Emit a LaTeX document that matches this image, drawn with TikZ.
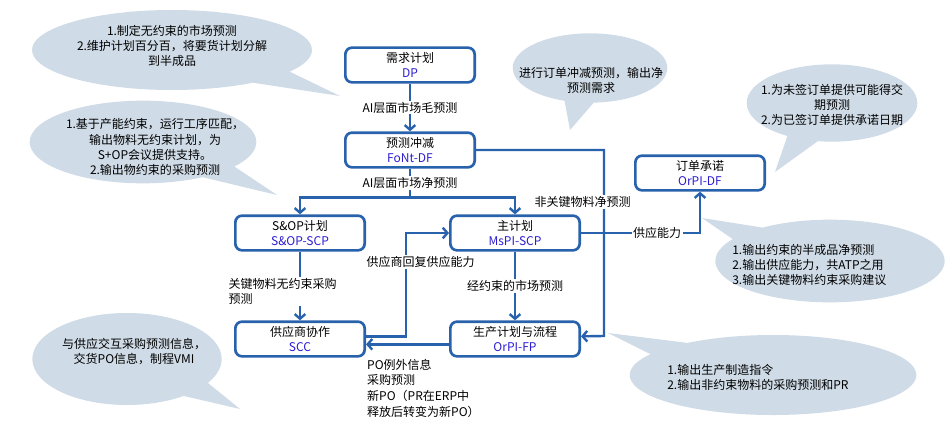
\documentclass[tikz,border=0pt]{standalone}
\usepackage{fontspec}
\setmainfont{Noto Sans CJK SC}
\usetikzlibrary{arrows.meta, calc, shapes.callouts}

\definecolor{flowblue}{RGB}{41,98,172}
\definecolor{codeblue}{RGB}{45,30,210}
\definecolor{notefill}{RGB}{207,219,230}
\newcommand{\boxcode}[1]{\textcolor{codeblue}{#1}}

\begin{document}
\begin{tikzpicture}[
x=0.75pt, y=-0.75pt,
font=\fontsize{9}{11.3}\selectfont,
box/.style={draw=flowblue, line width=2pt, rounded corners=5pt, fill=white, align=center, minimum width=97pt, minimum height=26pt, inner sep=1pt},
arrow/.style={draw=flowblue, line width=1.8pt, -{Straight Barb[length=3.5pt, width=8pt]}},
lbl/.style={fill=white, inner sep=1pt},
note/.style={ellipse callout, fill=notefill, inner sep=0pt, callout pointer arc=22},
notetext/.style={align=center, inner sep=0pt}
]
\useasboundingbox (0,0) rectangle (948,428);

% callouts
\node[note, minimum width=210pt, minimum height=60pt, callout absolute pointer={(340,96)}] (notedp) at (172,50) {};
\node[note, minimum width=170pt, minimum height=62pt, callout absolute pointer={(277,195)}] (notesop) at (143,142) {};
\node[note, minimum width=116pt, minimum height=52pt, callout absolute pointer={(570,130)}] (notefont) at (590,68) {};
\node[note, minimum width=128pt, minimum height=58pt, callout absolute pointer={(775,172)}] (noteopdf) at (832,103) {};
\node[note, minimum width=172pt, minimum height=62pt, callout absolute pointer={(702,218)}] (notemspl) at (830,261) {};
\node[note, minimum width=142pt, minimum height=69pt, callout absolute pointer={(240,409)}] (notescc) at (127,359) {};
\node[note, minimum width=215pt, minimum height=60pt, callout absolute pointer={(608,333)}] (noteofp) at (773,375) {};

\node[notetext] (txtdp) at (172,46) {1.制定无约束的市场预测\\2.维护计划百分百，将要货计划分解\\到半成品};
\node[notetext] (txtsop) at (155,147) {1.基于产能约束，运行工序匹配，\\输出物料无约束计划，为\\S+OP会议提供支持。\\2.输出物约束的采购预测};
\node[notetext] (txtfont) at (591,80) {进行订单冲减预测，输出净\\预测需求};
\node[notetext] (txtopdf) at (832,105) {1.为未签订单提供可能得交\\期预测\\2.为已签订单提供承诺日期};
\node[notetext, align=left, anchor=west] (txtmspl) at (732,265) {1.输出约束的半成品净预测\\2.输出供应能力，共ATP之用\\3.输出关键物料约束采购建议};
\node[notetext] (txtscc) at (134,352) {与供应交互采购预测信息，\\交货PO信息，制程VMI};
\node[notetext, align=left, anchor=west] (txtofp) at (667,377) {1.输出生产制造指令\\2.输出非约束物料的采购预测和PR};

% planning boxes
\node[box] (dp) at (410,65) {需求计划\\\boxcode{DP}};
\node[box] (font) at (410,150) {预测冲减\\\boxcode{FoNt-DF}};
\node[box] (sop) at (300,233) {S\&OP计划\\\boxcode{S\&OP-SCP}};
\node[box] (mspl) at (515,233) {主计划\\\boxcode{MsPI-SCP}};
\node[box] (scc) at (300,339) {供应商协作\\\boxcode{SCC}};
\node[box] (ofp) at (515,339) {生产计划与流程\\\boxcode{OrPI-FP}};
\node[box] (opdf) at (700,173) {订单承诺\\\boxcode{OrPI-DF}};

% flows
\draw[arrow] (dp) -- node[lbl]{AI层面市场毛预测} (font);
\draw[arrow] (font.south) -- node[lbl]{AI层面市场净预测} ++(0,29) -| (sop.north);
\draw[arrow] (font.south) ++(0,29) -| (mspl.north);
\draw[arrow] (font.east) -| node[lbl, pos=0.64, xshift=-16pt]{非关键物料净预测} ($(ofp.east)+(23,-3)$) -- ([yshift=2pt]ofp.east);
\draw[arrow] (mspl.east) -| node[lbl, pos=0.32]{供应能力} (opdf.south);
\draw[arrow] (sop) -- node[lbl, align=left, xshift=-13pt, yshift=-4pt]{关键物料无约束采购\\预测} (scc);
\draw[arrow] ([yshift=2pt]scc.east) -- ++(40,0) |- node[lbl, pos=0.36, xshift=11pt]{供应商回复供应能力} (mspl.west);
\draw[arrow] (mspl) -- node[lbl]{经约束的市场预测} (ofp);
\draw[arrow] ([yshift=-4pt]ofp.west) -- node[pos=1, anchor=north west, align=left, inner sep=0pt, yshift=-10pt, font=\fontsize{9}{11.8}\selectfont]{PO例外信息\\采购预测\\新PO（PR在ERP中\\释放后转变为新PO）} ([yshift=-4pt]scc.east);

\end{tikzpicture}
\end{document}
